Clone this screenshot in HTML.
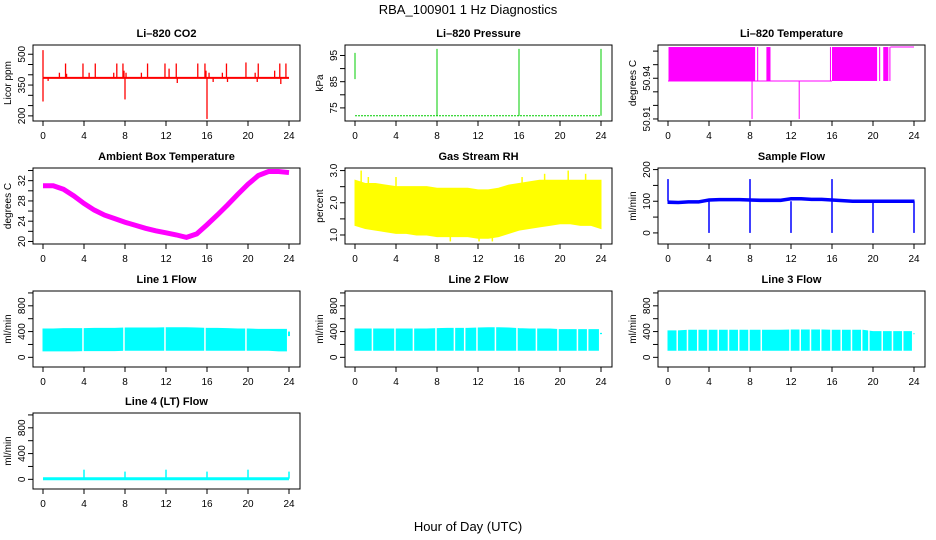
<!DOCTYPE html>
<html><head><meta charset="utf-8"><style>
html,body{margin:0;padding:0;background:#fff;}
svg{display:block;font-family:"Liberation Sans",sans-serif;}
</style></head><body>
<svg id="chart" width="936" height="540" viewBox="0 0 936 540" xmlns="http://www.w3.org/2000/svg">
<rect width="936" height="540" fill="#fff"/>
<text x="468" y="14" text-anchor="middle" font-size="13">RBA_100901  1 Hz Diagnostics</text>
<text x="468" y="531" text-anchor="middle" font-size="13">Hour of Day (UTC)</text>
</svg>
<script>
// ---- data ----
const hours = [0,1,2,3,4,5,6,7,8,9,10,11,12,13,14,15,16,17,18,19,20,21,22,23,24];
const xTicks = [0,4,8,12,16,20,24];
// CO2
const co2Base = 385;
const co2SpikeT = [0.0,0.0,0.5,1.6,2.2,2.3,3.9,4.5,5.1,6.9,7.2,7.8,7.9,8.0,8.1,9.6,10.2,11.9,12.3,13.0,13.1,15.1,15.8,15.9,16.0,16.2,16.6,17.5,17.9,18.0,19.8,20.7,20.9,21.0,22.6,23.1,23.2,23.7];
const co2SpikeV = [520,270,370,410,455,405,455,410,455,410,455,455,420,280,410,410,455,455,430,455,360,455,455,420,185,410,365,410,455,365,460,410,365,455,420,455,355,455];
// Pressure
const presBase = 72;
const presSpikeT = [0,8,16,24];
const presSpikeLo = [86,72,72,72];
const presSpikeHi = [96,97.5,97.5,97.5];
// Li-820 temperature
const tBandStart = [0.05,8.7,9.6,15.8,16.0,20.6,21.0,21.6];
const tBandEnd = [8.5,8.75,10.0,15.9,20.4,20.7,21.5,21.7];
const tBandLo = 50.938, tBandHi = 50.963;
const tDropT = [8.2,12.8];
const tDropV = [50.91,50.91];
// Ambient box temperature
const ambT = [31,31,30.3,29,27.5,26.2,25.2,24.5,23.8,23.2,22.6,22.1,21.7,21.3,20.8,21.5,23.3,25.2,27.2,29.3,31.3,33,33.8,33.8,33.6];
// RH
const rhHi = [2.7,2.6,2.6,2.55,2.5,2.5,2.5,2.5,2.45,2.45,2.45,2.45,2.4,2.4,2.45,2.55,2.6,2.65,2.7,2.7,2.7,2.7,2.7,2.7,2.7];
const rhLo = [1.3,1.2,1.15,1.1,1.05,1.05,1.0,1.0,0.95,0.95,0.95,0.95,0.9,0.9,0.95,1.05,1.15,1.2,1.25,1.3,1.35,1.35,1.3,1.3,1.2];
const rhSpikeT = [0.6,1.3,4.0,9.3,12.1,13.4,16.3,18.5,20.8,22.5];
const rhSpikeV = [3.0,2.8,2.8,0.8,0.8,0.8,2.8,2.9,3.0,2.9];
// Sample flow
const sfBase = [97,96,98,98,104,105,105,105,104,103,103,103,108,108,106,106,104,102,100,100,100,100,100,100,100];
const sfDropT = [4,8,12,16,20,24];
const sfDropV = [0,0,0,0,0,0];
const sfUpT = [0,8,16];
const sfUpV = [170,170,170];
// Line flows
const l1Hi = [440,440,445,445,445,450,450,450,455,455,455,455,460,460,460,455,450,450,445,440,440,435,435,435,435];
const l1Lo = [100,100,100,100,105,105,105,105,110,110,110,110,110,110,110,110,110,110,110,110,110,110,110,100,100];
const l1Gaps = [3.9,7.9,11.9,15.8,19.8];
const l2Hi = [440,440,440,440,440,440,440,440,445,450,450,450,455,460,460,455,445,440,440,440,430,430,430,430,430];
const l2Lo = [110,110,110,110,110,110,110,110,110,110,110,110,110,110,110,110,110,110,110,110,110,110,110,110,110];
const l2Gaps = [1.7,3.9,5.7,7.9,9.7,10.7,11.9,13.7,15.8,17.7,19.8,21.7,22.7];
const l3Hi = [410,410,420,420,420,420,420,420,420,420,420,420,425,425,425,425,420,420,420,420,400,400,400,400,400];
const l3Lo = [110,110,110,110,110,110,110,110,110,110,110,110,110,110,110,110,110,110,110,110,110,110,110,110,110];
const l3Gaps = [0.9,1.9,2.9,3.9,4.9,5.9,6.9,7.9,9.1,11.9,12.9,13.9,14.9,15.9,16.9,17.9,18.9,19.6,20.9,21.9,22.9];
const flowEndT = [23.75,23.75,23.75];
const flowEndLo = [330,360,360];
const flowEndHi = [400,380,370];
const l4Base = 10;
const l4SpikeT = [4,8,12,16,20,24];
const l4SpikeV = [150,120,150,120,150,120];

// ---- rendering ----
const svg = document.getElementById('chart');
const NS = 'http://www.w3.org/2000/svg';
function mk(tag, attrs, parent){const e=document.createElementNS(NS,tag);for(const k in attrs)e.setAttribute(k,attrs[k]);(parent||svg).appendChild(e);return e;}
const colX=[33,345,658], rowY=[45,168,291,413], W=267, H=76;

function panel(name,title,c,r,yMin,yMax,yTicks,yLabels,ylab){
  const L=colX[c],T=rowY[r];
  const g=mk('g',{});
  
  
  const xs=h=>L+10+h*(W-21)/24;
  const ys=v=>T+H-(v-yMin)/(yMax-yMin)*H;
  const t=mk('text',{x:L+W/2,y:T-8,'text-anchor':'middle','font-size':'11','font-weight':'bold'},g);
  t.textContent=title;
  
  
  const box=mk('rect',{x:L,y:T,width:W,height:H,fill:'none',stroke:'#000','stroke-width':1},g);
  
  
  const xa=mk('g',{},g);
  
  
  xTicks.forEach(h=>{mk('line',{x1:xs(h),x2:xs(h),y1:T+H,y2:T+H+5,stroke:'#000'},xa);
    const tt=mk('text',{x:xs(h),y:T+H+18,'text-anchor':'middle','font-size':'10'},xa);tt.textContent=h;});
  const ya=mk('g',{},g);
  
  
  yTicks.forEach(v=>mk('line',{x1:L-5,x2:L,y1:ys(v),y2:ys(v),stroke:'#000'},ya));
  yLabels.forEach(v=>{const y=ys(Number(v));const tt=mk('text',{x:L-8,y:y,'text-anchor':'middle','font-size':'10',transform:`rotate(-90 ${L-8} ${y})`},ya);tt.textContent=v;});
  const ylines=ylab.split('\n');
  ylines.forEach((s,i)=>{const x=L-22, y=T+H/2;
    const tt=mk('text',{x:x,y:y,'text-anchor':'middle','font-size':'10',transform:`rotate(-90 ${x} ${y})`},g);tt.textContent=s;
    
    });
  const data=mk('g',{},g);
  
  
  return {xs,ys,g:data};
}
function band(p,hi,lo,col,maxH){
  const hs=hours.filter(h=>h<=maxH);
  const n=hs.length;
  const xe=h=>p.xs(Math.min(h,maxH));
  let d='M'+hs.map((h,i)=>xe(h)+','+p.ys(hi[i])).join(' L');
  d+=' L'+xe(maxH)+','+p.ys(hi[n-1])+' L'+xe(maxH)+','+p.ys(lo[n-1]);
  d+=' L'+hs.slice().reverse().map((h,j)=>{const i=n-1-j;return xe(h)+','+p.ys(lo[i]);}).join(' L')+'Z';
  const e=mk('path',{d:d,fill:col,stroke:col,'stroke-width':1},p.g);
  
  
}
function vline(p,h,a,b,col,w){const e=mk('line',{x1:p.xs(h),x2:p.xs(h),y1:p.ys(a),y2:p.ys(b),stroke:col,'stroke-width':w||1},p.g);
  
  }
function poly(p,vals,col,w){const e=mk('polyline',{points:hours.map((h,i)=>p.xs(h)+','+p.ys(vals[i])).join(' '),fill:'none',stroke:col,'stroke-width':w},p.g);
  
  }

// CO2
let p=panel('co2-panel','Li\u2013820 CO2',0,0,175,545,[200,250,300,350,400,450,500],[200,350,500],'Licor ppm');
mk('line',{x1:p.xs(0),x2:p.xs(24),y1:p.ys(co2Base),y2:p.ys(co2Base),stroke:'#f00','stroke-width':2},p.g);
co2SpikeT.forEach((t,i)=>vline(p,t,co2Base,co2SpikeV[i],'#f00',1.3));
// Pressure
p=panel('pressure-panel','Li\u2013820 Pressure',1,0,70,99,[75,80,85,90,95],[75,85,95],'kPa');
mk('line',{x1:p.xs(0),x2:p.xs(24),y1:p.ys(presBase),y2:p.ys(presBase),stroke:'#0c0','stroke-width':1,'stroke-dasharray':'2,1'},p.g);
presSpikeT.forEach((t,i)=>vline(p,t,presSpikeLo[i],presSpikeHi[i],'#0c0',1));
// Li-820 temperature
p=panel('li820-temp-panel','Li\u2013820 Temperature',2,0,50.9085,50.9645,[50.91,50.92,50.93,50.94,50.95,50.96],['50.91','50.94'],'degrees C');
mk('line',{x1:p.xs(0),x2:p.xs(16),y1:p.ys(tBandLo),y2:p.ys(tBandLo),stroke:'#f0f','stroke-width':1},p.g);
mk('line',{x1:p.xs(21.7),x2:p.xs(24),y1:p.ys(tBandHi),y2:p.ys(tBandHi),stroke:'#f0f','stroke-width':1},p.g);
tBandStart.forEach((s,i)=>{const r=mk('rect',{x:p.xs(s),y:p.ys(tBandHi),width:Math.max(1,p.xs(tBandEnd[i])-p.xs(s)),height:p.ys(tBandLo)-p.ys(tBandHi),fill:'#f0f'},p.g);
  
  });
tDropT.forEach((t,i)=>vline(p,t,tBandLo,tDropV[i],'#f0f',1));
// Ambient
p=panel('ambient-temp-panel','Ambient Box Temperature',0,1,19.5,34.5,[20,22,24,26,28,30,32,34],[20,24,28,32],'degrees C');
poly(p,ambT,'#f0f',5);
// RH
p=panel('rh-panel','Gas Stream RH',1,1,0.72,3.08,[1.0,1.5,2.0,2.5,3.0],['1.0','2.0','3.0'],'percent');
band(p,rhHi,rhLo,'#ff0',24);
rhSpikeT.forEach((t,i)=>vline(p,t,1.8,rhSpikeV[i],'#ff0',1.5));
// Sample flow
p=panel('sample-flow-panel','Sample Flow',2,1,-35,205,[0,50,100,150,200],[0,100,200],'ml/min');
band(p,sfBase.map(v=>v+4),sfBase.map(v=>v-4),'#00f',24);
sfDropT.forEach((t,i)=>vline(p,t,100,sfDropV[i],'#00f',1.5));
sfUpT.forEach((t,i)=>vline(p,t,100,sfUpV[i],'#00f',1.5));
// Line flows
function flowPanel(name,title,c,r,hi,lo,gaps,k){
  const q=panel(name,title,c,r,-150,1030,[0,200,400,600,800,1000],[0,400,800],'ml/min');
  if(hi){band(q,hi,lo,'#0ff',flowEndT[k]);
    gaps.forEach(t=>vline(q,t,lo[0]-10,Math.max(...hi)+10,'#fff',1.5));
    vline(q,24,flowEndLo[k],flowEndHi[k],'#0ff',2);}
  return q;
}
flowPanel('line1-flow-panel','Line 1 Flow',0,2,l1Hi,l1Lo,l1Gaps,0);
flowPanel('line2-flow-panel','Line 2 Flow',1,2,l2Hi,l2Lo,l2Gaps,1);
flowPanel('line3-flow-panel','Line 3 Flow',2,2,l3Hi,l3Lo,l3Gaps,2);
p=flowPanel('line4-flow-panel','Line 4 (LT) Flow',0,3,null,null,null,0);
mk('line',{x1:p.xs(0),x2:p.xs(24),y1:p.ys(l4Base),y2:p.ys(l4Base),stroke:'#0ff','stroke-width':3},p.g);
l4SpikeT.forEach((t,i)=>vline(p,t,l4Base,l4SpikeV[i],'#0ff',1.5));
</script>
</body></html>
